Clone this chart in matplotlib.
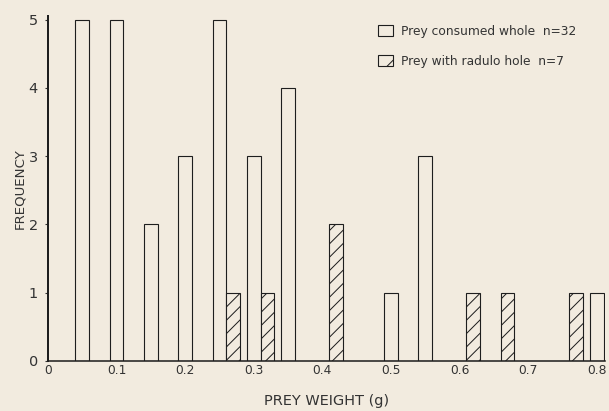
import matplotlib
matplotlib.use("Agg")
import matplotlib.pyplot as plt
from matplotlib.patches import Patch

# Data
whole_weights = [0.05, 0.10, 0.15, 0.20, 0.25, 0.30, 0.35, 0.50, 0.55, 0.80]
whole_counts = [5, 5, 2, 3, 5, 3, 4, 1, 3, 1]
hole_weights = [0.27, 0.32, 0.42, 0.62, 0.67, 0.77]
hole_counts = [1, 1, 2, 1, 1, 1]
xticks = [0, 0.1, 0.2, 0.3, 0.4, 0.5, 0.6, 0.7, 0.8]
xtick_labels = ["0", "0.1", "0.2", "0.3", "0.4", "0.5", "0.6", "0.7", "0.8"]
yticks = [0, 1, 2, 3, 4, 5]
legend_labels = ["Prey consumed whole  n=32", "Prey with radulo hole  n=7"]

bg = "#f2ebdf"
ink = "#1e1e1e"
DPI = 80
plt.rcParams["font.family"] = ["DejaVu Sans"]
plt.rcParams["hatch.linewidth"] = 0.9
plt.rcParams["hatch.color"] = ink

fig = plt.figure(figsize=(609 / DPI, 411 / DPI), dpi=DPI, facecolor=bg)
ax = fig.add_axes([0.0788, 0.1217, 0.9146, 0.839])
ax.set_facecolor(bg)

bw = 0.02
ax.bar(whole_weights, whole_counts, width=bw, facecolor=bg, edgecolor=ink, linewidth=1.0)
ax.bar(hole_weights, hole_counts, width=bw, facecolor=bg, edgecolor=ink, linewidth=1.0, hatch="//")

ax.set_xlim(0, 0.812)
ax.set_ylim(0, 5.05)
for s in ["top", "right"]:
    ax.spines[s].set_visible(False)
ax.spines["left"].set_linewidth(1.8)
ax.spines["bottom"].set_linewidth(1.4)
ax.spines["left"].set_color(ink)
ax.spines["bottom"].set_color(ink)

ax.set_xticks(xticks)
ax.set_xticklabels(xtick_labels)
ax.set_yticks(yticks)
ax.tick_params(axis="x", length=0, pad=3, labelsize=11, colors="#333333")
ax.tick_params(axis="y", length=3, width=1, pad=6, labelsize=13, colors="#333333")

ax.set_xlabel("PREY WEIGHT (g)", fontsize=13, color="#333333", labelpad=15)
ax.set_ylabel("FREQUENCY", fontsize=12, color="#333333", labelpad=2)

handles = [Patch(facecolor=bg, edgecolor=ink, linewidth=1.0),
           Patch(facecolor=bg, edgecolor=ink, linewidth=1.0, hatch="/")]
leg = fig.legend(handles, legend_labels, loc="upper left",
                 bbox_to_anchor=(378 / 609, 1 - 25 / 411), frameon=False,
                 fontsize=11, handlelength=1.2, handleheight=1.0,
                 handletextpad=0.7, labelspacing=1.4, borderpad=0, borderaxespad=0)
for t in leg.get_texts():
    t.set_color("#333333")

fig.savefig("out.png", dpi=DPI, facecolor=bg)
